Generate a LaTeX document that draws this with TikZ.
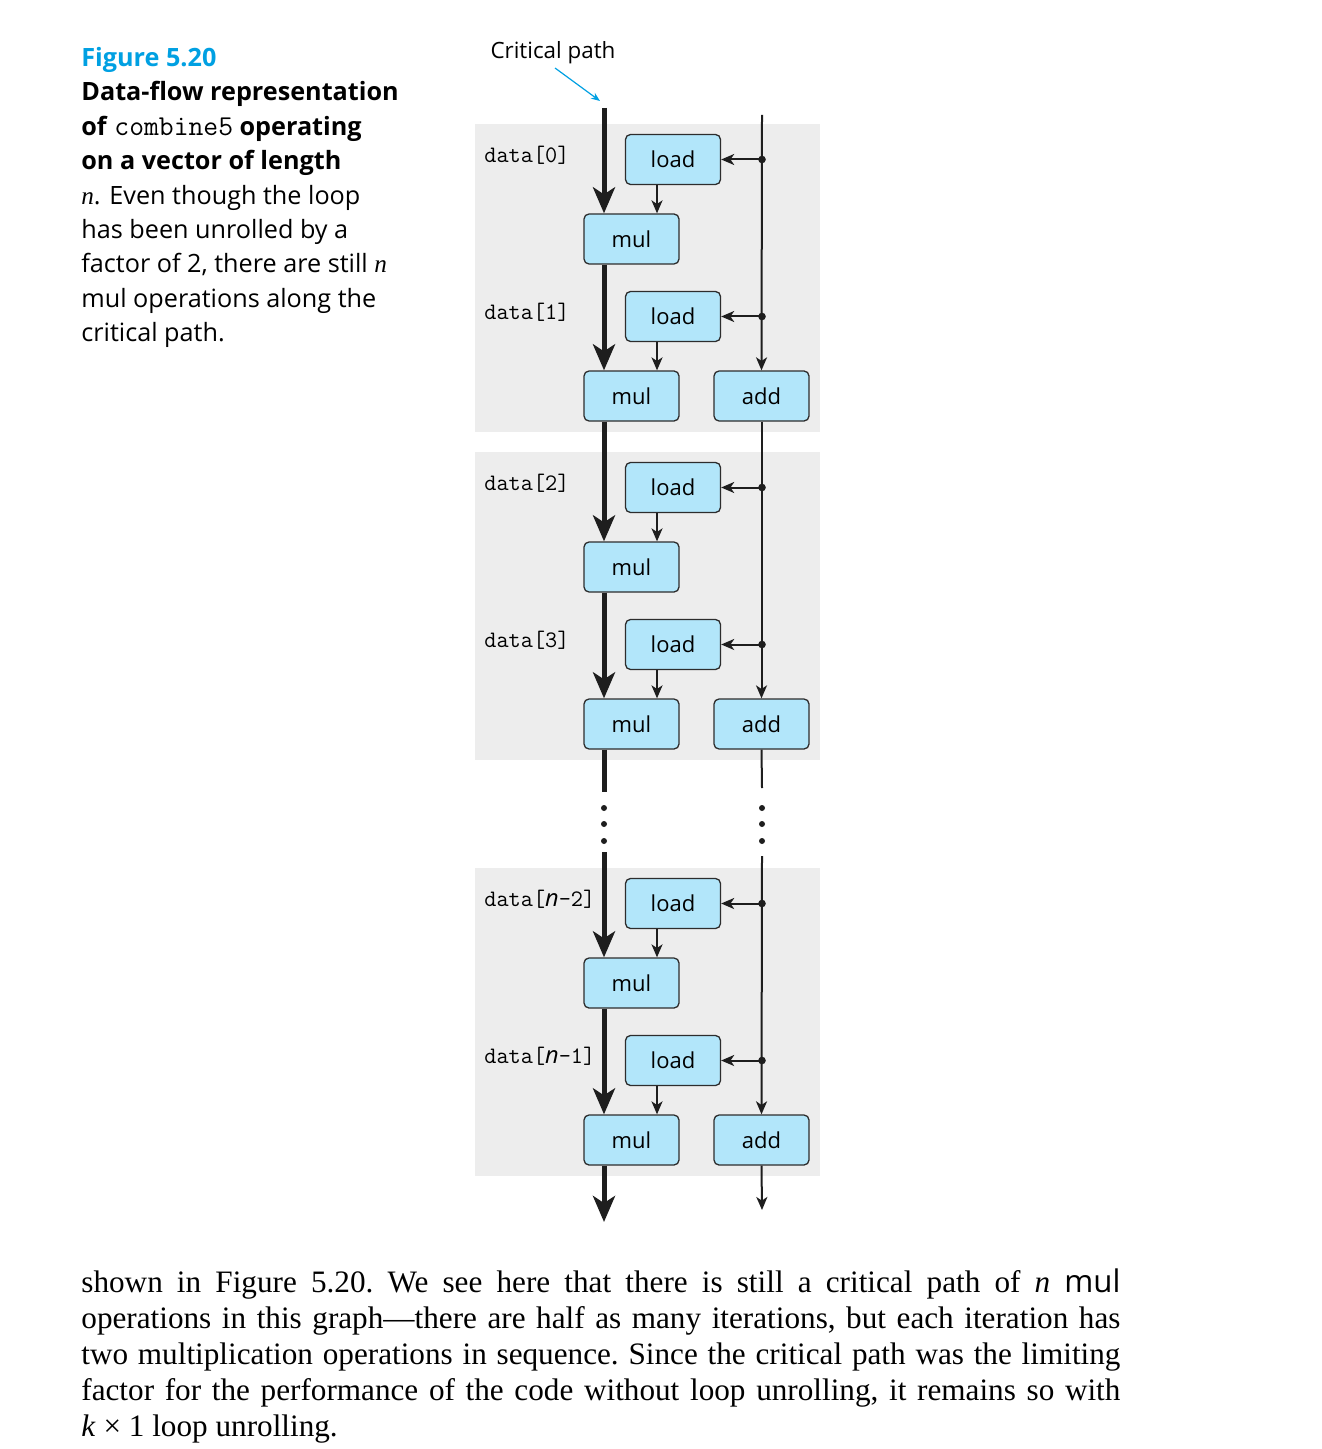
\documentclass[tikz,border=0pt]{standalone}
\usepackage{fontspec}
\setmainfont{Liberation Serif}
\setsansfont{Open Sans}
\usetikzlibrary{arrows.meta,positioning}

\definecolor{figcyan}{RGB}{0,160,226}
\definecolor{boxfill}{RGB}{178,230,250}
\definecolor{boxline}{RGB}{45,45,45}
\definecolor{panelgray}{RGB}{237,237,237}
\definecolor{inkline}{RGB}{30,30,30}

\tikzset{
    opbox/.style={draw=boxline, line width=0.65pt, fill=boxfill, rounded corners=2.5pt,
        minimum width=47.5pt, minimum height=25pt, inner sep=0pt,
        font=\sffamily\fontsize{11}{13}\selectfont},
    datalabel/.style={anchor=west, inner sep=0pt, font=\ttfamily\fontsize{11.8}{13}\selectfont},
    critpath/.style={draw=inkline, line width=2.5pt, -{Stealth[length=13pt, width=11pt, inset=3.5pt]}},
    critline/.style={draw=inkline, line width=2.5pt},
    flowline/.style={draw=inkline, line width=1pt},
    flowarrow/.style={draw=inkline, line width=1pt, -{Stealth[length=6.5pt, width=5.5pt, inset=1.8pt]}},
    pointer/.style={draw=figcyan, line width=0.6pt, -{Stealth[length=4.5pt, width=3.5pt]}},
    junction/.style={circle, fill=inkline, inner sep=0pt, minimum size=3.8pt},
}

\begin{document}
\begin{tikzpicture}[x=0.5pt, y=-0.5pt]
\useasboundingbox (0,0) rectangle (1321,1449);

% Gray panels behind the iterations
\foreach \top in {124, 452, 868} {
    \fill[panelgray] (475,\top) rectangle (820,\top+308);
}

% Caption
\node[anchor=north west, inner sep=0pt, align=left,
      font=\sffamily\fontsize{12.6}{17.2}\selectfont] (caption) at (81,47) {%
    {\bfseries\color{figcyan}Figure 5.20}\\
    \textbf{Data-flow representation}\\
    \textbf{of} {\ttfamily\fontsize{14.4}{17.2}\selectfont combine5} \textbf{operating}\\
    \textbf{on a vector of length}\\
    {\rmfamily\itshape n}. Even though the loop\\
    has been unrolled by a\\
    factor of 2, there are still {\rmfamily\itshape n}\\
    mul operations along the\\
    critical path.};

% Critical path label
\node[font=\sffamily\fontsize{11.2}{13}\selectfont] (cplabel) at (553,53) {Critical path};
\coordinate (cptail) at (555,68);
\coordinate (cptip) at (600,101);
\draw[pointer] (cptail) -- (cptip);

% Load and mul nodes, two per iteration
\foreach \i/\y/\d in {1/159.5/0, 2/316.5/1, 3/487.5/2, 4/644.5/3,
                      5/903.5/{{\sffamily\itshape n}-2}, 6/1060.5/{{\sffamily\itshape n}-1}} {
    \node[opbox] (load\i) at (673,\y) {load};
    \node[opbox] (mul\i) at (631.5,\y+79.5) {mul};
    \node[datalabel] (data\i) at (484,\y-4) {data[\d]};
    % Junction on the index line
    \coordinate (jn\i) at (762,\y);
    \node[junction] at (jn\i) {};
    \draw[flowarrow] (jn\i) -- (load\i.east);
    \draw[flowarrow] ([xshift=-8pt]load\i.south) -- ([xshift=-8pt]load\i.south |- mul\i.north);
}

% Add nodes
\foreach \i/\y in {1/396, 2/724, 3/1140} {
    \node[opbox] (add\i) at (761.5,\y) {add};
}

% Critical path (thick)
\coordinate (ctop) at (604,108);
\coordinate (cgapa) at (604,792);
\coordinate (cgapb) at (604,852);
\coordinate (cend) at (604,1222);
\draw[critpath] (ctop) -- (ctop |- mul1.north);
\foreach \i/\j in {1/2, 2/3, 3/4, 5/6} {
    \draw[critpath] (mul\i.south -| ctop) -- (ctop |- mul\j.north);
}
\draw[critline] (mul4.south -| ctop) -- (cgapa);
\draw[critpath] (cgapb) -- (ctop |- mul5.north);
\draw[critpath] (mul6.south -| ctop) -- (cend);

% Index line (thin)
\coordinate (rtop) at (762,115);
\coordinate (rgapa) at (762,788);
\coordinate (rgapb) at (762,856);
\coordinate (rend) at (762,1210);
\draw[flowarrow] (rtop) -- (add1.north);
\draw[flowarrow] (add1.south) -- (add2.north);
\draw[flowline] (add2.south) -- (rgapa);
\draw[flowarrow] (rgapb) -- (add3.north);
\draw[flowarrow] (add3.south) -- (rend);

% Ellipsis dots
\foreach \x in {604, 762} {
    \foreach \y in {808, 824, 841} {
        \fill[inkline] (\x,\y) circle (1.5pt);
    }
}

% Running text below the figure
\node[anchor=north west, inner sep=0pt, text width=519.5pt, align=justify,
      font=\rmfamily\fontsize{15.6}{18}\selectfont\frenchspacing] (bodytext) at (81,1268) {%
    shown in Figure 5.20. We see here that there is still a critical path of \textit{n} {\sffamily mul}\linebreak
    operations in this graph—there are half as many iterations, but each iteration has\linebreak
    two multiplication operations in sequence. Since the critical path was the limiting\linebreak
    factor for the performance of the code without loop unrolling, it remains so with\linebreak
    \textit{k} × 1 loop unrolling.};

\end{tikzpicture}
\end{document}
